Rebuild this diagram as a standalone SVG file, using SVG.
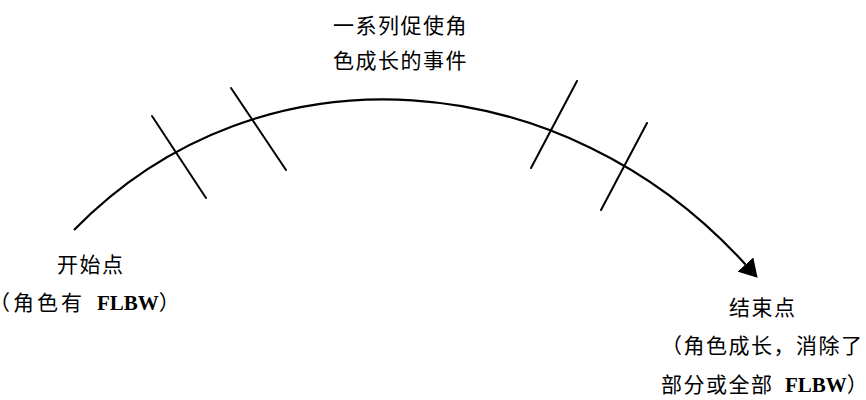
<svg xmlns="http://www.w3.org/2000/svg" width="866" height="400" viewBox="0 0 866 400">
  <style>
    .cn { font-family: "Noto Sans CJK SC", "Noto Sans", sans-serif; font-size: 21px; letter-spacing: 1.5px; fill: #000; }
    .wide { letter-spacing: 3px; }
    .lat { font-family: "Liberation Serif", serif; font-weight: bold; font-size: 21px; letter-spacing: 0; }
    .curve { fill: none; stroke: #000; stroke-width: 2.2; }
    .tick { stroke: #000; stroke-width: 2; stroke-linecap: round; }
  </style>
  <defs>
    <marker id="arrow" viewBox="0 0 18 21" refX="0" refY="10.5" markerUnits="userSpaceOnUse" markerWidth="18" markerHeight="21" orient="auto">
      <path d="M0,0 L18,10.5 L0,21 z" fill="#000"/>
    </marker>
  </defs>
  <rect width="866" height="400" fill="#fff"/>
  <g id="connectors">
    <path id="arc" class="curve" d="M74,230 C261.5,37.7 565,65 745.5,264.5" marker-end="url(#arrow)"/>
  </g>
  <g id="tick1"><line class="tick" x1="152" y1="116" x2="206" y2="198"/></g>
  <g id="tick2"><line class="tick" x1="231" y1="88" x2="286" y2="170"/></g>
  <g id="tick3"><line class="tick" x1="577" y1="81" x2="531" y2="168"/></g>
  <g id="tick4"><line class="tick" x1="647" y1="123" x2="601" y2="210"/></g>
  <g id="events">
    <text class="cn" x="333" y="33">一系列促使角</text>
    <text class="cn" x="333" y="68">色成长的事件</text>
  </g>
  <g id="start">
    <text class="cn" x="57" y="272">开始点</text>
    <text class="cn wide" x="-11" y="310">（角色有 <tspan class="lat" x="97">FLBW</tspan>）</text>
  </g>
  <g id="end">
    <text class="cn" x="729" y="315">结束点</text>
    <text class="cn" x="661" y="353">（角色成长，消除了</text>
    <text class="cn" x="661" y="392">部分或全部 <tspan class="lat" x="785">FLBW</tspan>）</text>
  </g>
</svg>
